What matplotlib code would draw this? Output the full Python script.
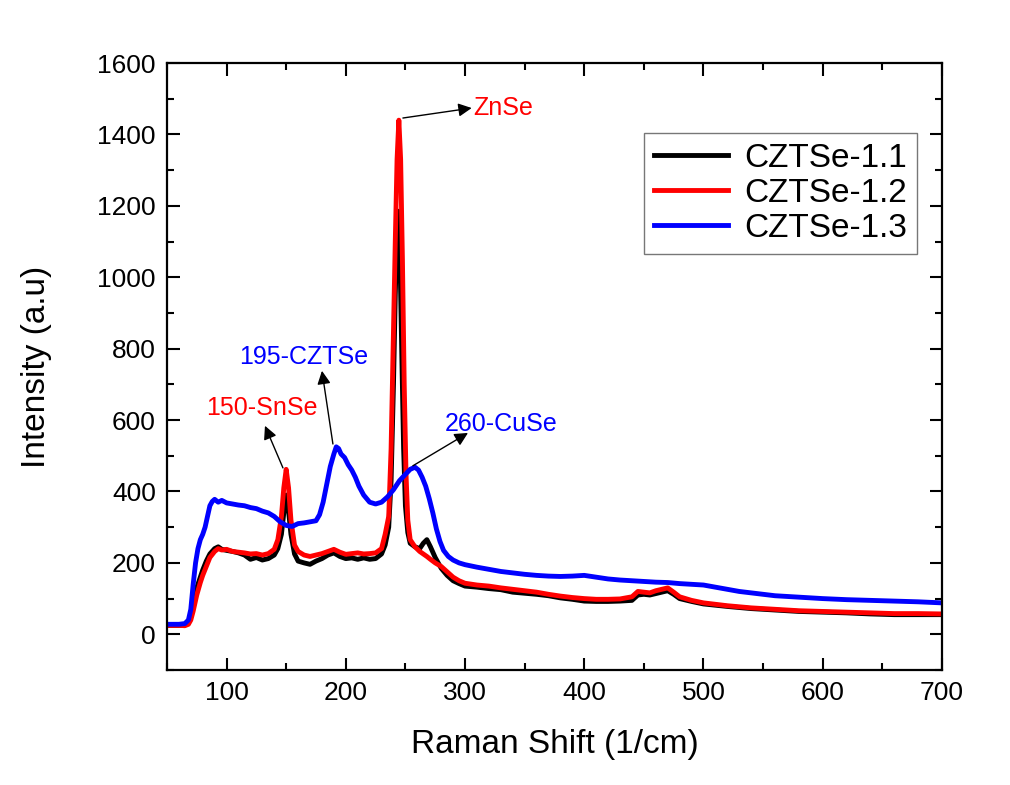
import numpy as np
import matplotlib.pyplot as plt
from matplotlib.ticker import MultipleLocator

plt.rcParams['font.family'] = ['Liberation Sans', 'DejaVu Sans']

# Raman spectra, three samples
x_11 = [50, 60, 65, 68, 70, 72, 75, 78, 80, 83, 86, 90, 93, 96, 100, 105, 110, 115, 120, 125,
        130, 135, 140, 143, 146, 148, 150, 152, 154, 157, 160, 165, 170, 175, 180, 185, 190, 195,
        200, 205, 210, 215, 220, 225, 230, 233, 236, 238, 240, 241.5, 243, 244, 245.5, 247, 248.5,
        250, 252, 254, 258, 262, 265, 268, 271, 275, 280, 285, 290, 295, 300, 310, 320, 330, 340,
        350, 360, 370, 380, 390, 400, 410, 420, 430, 440, 445, 450, 455, 460, 465, 470, 475, 480,
        490, 500, 520, 540, 560, 580, 600, 620, 640, 660, 680, 700]
y_11 = [25, 25, 26, 35, 55, 85, 130, 160, 180, 205, 225, 240, 245, 238, 235, 232, 228, 222, 210, 215,
        208, 212, 222, 240, 280, 340, 390, 345, 280, 225, 205, 200, 196, 205, 212, 222, 228, 218,
        212, 214, 210, 214, 210, 212, 225, 250, 300, 430, 700, 950, 1140, 1185, 1050, 780, 520,
        360, 285, 255, 245, 240, 255, 265, 245, 215, 185, 165, 150, 142, 135, 132, 128, 125, 118,
        115, 112, 108, 102, 98, 93, 92, 92, 93, 95, 110, 112, 110, 114, 118, 122, 112, 100,
        92, 85, 78, 72, 68, 64, 62, 60, 57, 55, 55, 55]

x_12 = [50, 60, 65, 68, 70, 72, 75, 78, 80, 83, 86, 90, 93, 96, 100, 105, 110, 115, 120, 125,
        130, 135, 140, 143, 146, 148, 150, 152, 154, 157, 160, 165, 170, 175, 180, 185, 190, 195,
        200, 205, 210, 215, 220, 225, 230, 233, 236, 238, 240, 241.5, 243, 244.5, 246, 247.5, 249,
        250.5, 252, 254, 258, 262, 265, 268, 271, 275, 280, 285, 290, 295, 300, 310, 320, 330, 340,
        350, 360, 370, 380, 390, 400, 410, 420, 430, 440, 445, 450, 455, 460, 465, 470, 475, 480,
        490, 500, 520, 540, 560, 580, 600, 620, 640, 660, 680, 700]
y_12 = [25, 25, 24, 28, 40, 65, 110, 145, 165, 190, 215, 232, 240, 236, 238, 232, 230, 228, 225, 226,
        222, 226, 238, 265, 330, 410, 462, 410, 320, 250, 232, 222, 218, 222, 226, 232, 238, 230,
        224, 226, 228, 225, 226, 228, 240, 280, 330, 520, 850, 1100, 1330, 1440, 1330, 1050, 700,
        450, 320, 265, 245, 232, 225, 218, 210, 200, 190, 175, 160, 150, 143, 138, 135, 130, 126,
        122, 118, 112, 107, 103, 100, 98, 98, 99, 105, 120, 118, 116, 122, 126, 130, 118, 105,
        95, 88, 80, 74, 70, 66, 64, 62, 60, 58, 58, 57]

x_13 = [50, 60, 65, 68, 70, 72, 74, 76, 78, 80, 82, 84, 86, 88, 90, 93, 96, 100, 105, 110,
        115, 120, 125, 130, 135, 140, 145, 150, 155, 160, 165, 170, 175, 178, 181, 184, 187, 190,
        192, 194, 196, 199, 202, 205, 208, 211, 215, 220, 225, 230, 235, 240, 245, 250, 254, 258,
        261, 264, 267, 270, 273, 276, 279, 282, 286, 290, 295, 300, 310, 320, 330, 340, 350, 360,
        370, 380, 390, 400, 410, 420, 430, 440, 450, 460, 470, 480, 490, 500, 510, 520, 530, 540,
        550, 560, 580, 600, 620, 640, 660, 680, 700]
y_13 = [28, 28, 30, 40, 70, 140, 200, 240, 265, 280, 300, 330, 360, 372, 378, 370, 375, 368, 365, 362,
        360, 355, 352, 345, 340, 330, 315, 305, 302, 310, 312, 315, 318, 335, 370, 420, 470, 505,
        525, 520, 505, 495, 475, 460, 440, 415, 390, 370, 365, 370, 385, 405, 430, 448, 462, 468,
        460, 440, 415, 380, 340, 295, 260, 235, 218, 208, 200, 195, 188, 182, 176, 172, 168, 165,
        163, 162, 163, 165, 160, 155, 152, 150, 148, 146, 145, 142, 140, 138, 132, 126, 120, 116,
        112, 108, 104, 100, 97, 95, 93, 91, 88]

fig = plt.figure(figsize=(10.1, 7.85), dpi=100)
ax = fig.add_axes([0.1653, 0.1465, 0.7673, 0.7732])

ax.plot(x_11, y_11, color='black', lw=3.5, label='CZTSe-1.1')
ax.plot(x_12, y_12, color='red', lw=3.5, label='CZTSe-1.2')
ax.plot(x_13, y_13, color='blue', lw=3.5, label='CZTSe-1.3')

ax.set_xlim(50, 700)
ax.set_ylim(-100, 1600)
ax.xaxis.set_major_locator(MultipleLocator(100))
ax.xaxis.set_minor_locator(MultipleLocator(50))
ax.yaxis.set_major_locator(MultipleLocator(200))
ax.yaxis.set_minor_locator(MultipleLocator(100))
ax.tick_params(which='both', direction='in', top=True, right=True, width=1.5)
ax.tick_params(which='major', length=9, labelsize=19)
ax.tick_params(which='minor', length=5)
ax.tick_params(axis='x', pad=8)
ax.tick_params(axis='y', pad=8)
for s in ax.spines.values():
    s.set_linewidth(1.6)

ax.set_xlabel('Raman Shift (1/cm)', fontsize=24)
ax.set_ylabel('Intensity (a.u)', fontsize=24)
ax.xaxis.label.set_va('center')
ax.yaxis.label.set_va('center')
ax.xaxis.set_label_coords(0.5, -0.122)
ax.yaxis.set_label_coords(-0.168, 0.5)

arrow = dict(arrowstyle='-|>', color='black', lw=1, mutation_scale=20, shrinkA=0, shrinkB=0)
ax.annotate('', xy=(305.6, 1474), xytext=(247.9, 1446), arrowprops=arrow)
ax.text(306.5, 1474, 'ZnSe', color='red', fontsize=18, ha='left', va='center')
ax.annotate('', xy=(132.2, 584), xytext=(147.3, 466), arrowprops=arrow)
ax.text(130, 635, '150-SnSe', color='red', fontsize=18, ha='center', va='center')
ax.annotate('', xy=(180, 738), xytext=(189.2, 533), arrowprops=arrow)
ax.text(165, 778, '195-CZTSe', color='blue', fontsize=18, ha='center', va='center')
ax.annotate('', xy=(302.5, 564), xytext=(256.3, 472), arrowprops=arrow)
ax.text(330, 590, '260-CuSe', color='blue', fontsize=18, ha='center', va='center')

leg = ax.legend(loc='upper right', bbox_to_anchor=(0.968, 0.885), fontsize=24, frameon=True,
                fancybox=False, handlelength=2.2, labelspacing=0.12, borderpad=0.3,
                handletextpad=0.5, borderaxespad=0)
leg.get_frame().set_edgecolor('#555555')
leg.get_frame().set_linewidth(1)
for line in leg.get_lines():
    line.set_linewidth(3.5)

fig.savefig('out.png', dpi=100)
